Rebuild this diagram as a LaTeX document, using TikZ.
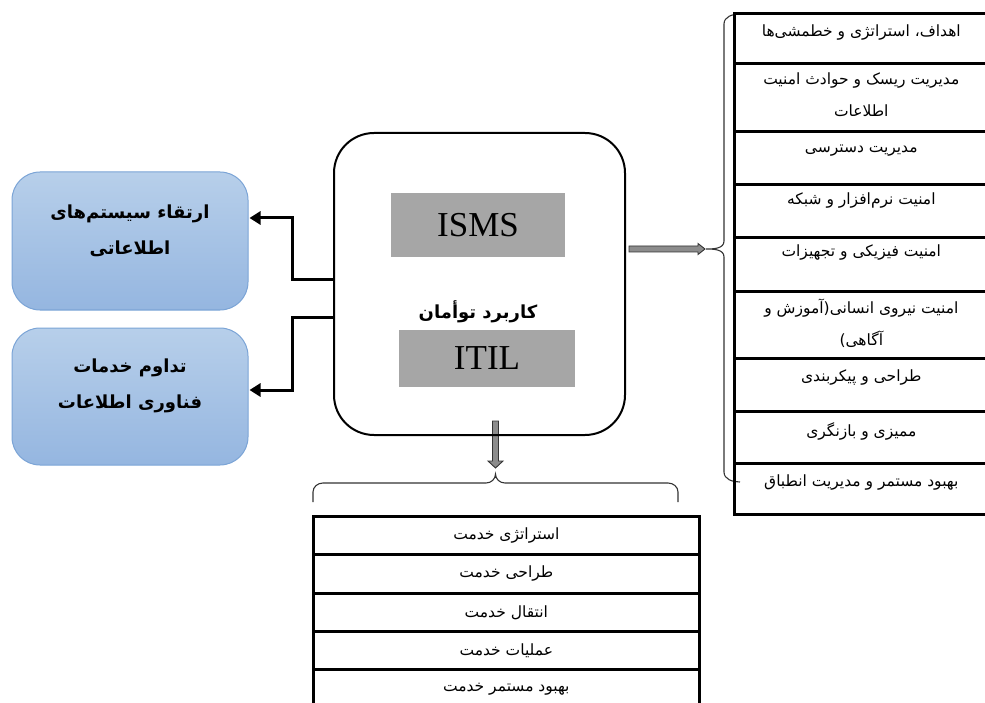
\documentclass[tikz,border=0pt]{standalone}
\usepackage{fontspec}
\setmainfont{Liberation Serif}
\newfontfamily\fa[Script=Arabic]{DejaVu Sans}
\TeXXeTstate=1
\usetikzlibrary{arrows.meta,calc}
\newcommand{\pr}[1]{\beginR #1\endR}
\definecolor{boxgray}{HTML}{A6A6A6}
\definecolor{arrgray}{HTML}{8C8C8C}
\definecolor{bluetop}{HTML}{B7CFEA}
\definecolor{bluebot}{HTML}{95B6E0}
\definecolor{blueline}{HTML}{7BA4D6}
\tikzset{
  corebox/.style={draw, line width=2pt, rounded corners=40pt, minimum width=291pt, minimum height=302pt, inner sep=0pt},
  bluebox/.style={draw=blueline, line width=1pt, rounded corners=28pt, top color=bluetop, bottom color=bluebot, minimum width=236pt, minimum height=137pt, inner sep=0pt},
  graybox/.style={fill=boxgray, inner sep=0pt, font=\fontsize{35}{40}\selectfont},
  rcell/.style={draw, line width=2.6pt, minimum width=254pt, inner sep=0pt, anchor=north west},
  bcell/.style={draw, line width=2.6pt, minimum width=386pt, inner sep=0pt, anchor=north west},
  ftext/.style={inner sep=0pt, align=center, font=\fa\fontsize{15.5}{32}\selectfont},
  btext/.style={inner sep=0pt, align=center, font=\fa\bfseries\fontsize{18}{36}\selectfont},
  larrow/.style={line width=3pt, -{Triangle[length=11pt,width=13pt]}},
  garrow/.style={fill=arrgray, draw=black!80, line width=0.9pt, line join=miter},
  bracel/.style={line width=1.1pt, draw=black!80}
}
\begin{document}
\begin{tikzpicture}[x=1pt,y=-1pt]
\useasboundingbox (0,0) rectangle (985,703);

% grey arrows (under the box border)
\coordinate (bt) at (495.5,468);
\coordinate (rt) at (705,249);
\draw[garrow] ($(bt)+(-3,-47)$) -- ($(bt)+(-3,-7)$) -- ($(bt)+(-7.5,-7)$) -- (bt) -- ($(bt)+(7.5,-7)$) -- ($(bt)+(3,-7)$) -- ($(bt)+(3,-47)$) -- cycle;

% central box
\node[corebox] (core) at (479.5,284) {};
\node[graybox, minimum width=174pt, minimum height=64pt] (isms) at (478,225) {ISMS};
\node[graybox, minimum width=176pt, minimum height=57pt] (itil) at (487,358.5) {ITIL};
\node[btext] (twin) at (478,312) {\pr{کاربرد توأمان}};

\draw[garrow] ($(core.east)+(3,-38)$) -- ($(rt)+(-7,-3)$) -- ($(rt)+(-7,-5.5)$) -- (rt) -- ($(rt)+(-7,5.5)$) -- ($(rt)+(-7,3)$) -- ($(core.east)+(3,-32)$) -- cycle;

% left blue boxes
\node[bluebox, minimum height=138pt] (b1) at (130,241) {};
\node[btext] (b1t) at ($(b1.center)+(0,-10.5)$) {\pr{ارتقاء سیستم‌های}\\\pr{اطلاعاتی}};
\node[bluebox] (b2) at (130,396.5) {};
\node[btext] (b2t) at ($(b2.center)+(0,-10.5)$) {\pr{تداوم خدمات}\\\pr{فناوری اطلاعات}};

\draw[larrow] ($(core.west)+(0,-4)$) -| ($(b1.east)+(44,-23)$) -- ($(b1.east)+(1,-23)$);
\draw[larrow] ($(core.west)+(0,33)$) -| ($(b2.east)+(44,-6.5)$) -- ($(b2.east)+(1,-6.5)$);

% right brace
\coordinate (rb) at (706,249);
\draw[bracel] (740,14) to[out=180,in=90] (724,24) -- (724,241) to[out=-90,in=0] (rb) to[out=0,in=90] (724,257) -- (724,472) to[out=-90,in=180] (740,482);

% right table
\node[rcell, minimum height=50pt] (r1) at (733,12) {};
\node[rcell, minimum height=68pt] (r2) at (733,62) {};
\node[rcell, minimum height=53pt] (r3) at (733,130) {};
\node[rcell, minimum height=53pt] (r4) at (733,183) {};
\node[rcell, minimum height=54pt] (r5) at (733,236) {};
\node[rcell, minimum height=67pt] (r6) at (733,290) {};
\node[rcell, minimum height=53pt] (r7) at (733,357) {};
\node[rcell, minimum height=52pt] (r8) at (733,410) {};
\node[rcell, minimum height=51pt] (r9) at (733,462) {};
\node[ftext] (t1) at ($(r1.north)+(0,21)$) {\pr{اهداف، استراتژی و خطمشی‌ها}};
\node[ftext] (t2) at ($(r2.north)+(0,33)$) {\pr{مدیریت ریسک و حوادث امنیت}\\\pr{اطلاعات}};
\node[ftext] (t3) at ($(r3.north)+(0,21)$) {\pr{مدیریت دسترسی}};
\node[ftext] (t4) at ($(r4.north)+(0,18)$) {\pr{امنیت نرم‌افزار و شبکه}};
\node[ftext] (t5) at ($(r5.north)+(0,17)$) {\pr{امنیت فیزیکی و تجهیزات}};
\node[ftext] (t6) at ($(r6.north)+(0,33)$) {\pr{امنیت نیروی انسانی(آموزش و}\\\pr{آگاهی)}};
\node[ftext] (t7) at ($(r7.north)+(0,21)$) {\pr{طراحی و پیکربندی}};
\node[ftext] (t8) at ($(r8.north)+(0,21)$) {\pr{ممیزی و بازنگری}};
\node[ftext] (t9) at ($(r9.north)+(0,21)$) {\pr{بهبود مستمر و مدیریت انطباق}};

% bottom brace
\coordinate (bb) at (495.5,474);
\draw[bracel] (313,502) -- (313,492) to[out=90,in=180] (323,483) -- (486,483) to[out=0,in=-90] (bb) to[out=-90,in=180] (505,483) -- (668,483) to[out=0,in=90] (678,492) -- (678,502);

% bottom table
\node[bcell, minimum height=38pt] (s1) at (312,515) {};
\node[bcell, minimum height=39pt] (s2) at (312,553) {};
\node[bcell, minimum height=38pt] (s3) at (312,592) {};
\node[bcell, minimum height=38pt] (s4) at (312,630) {};
\node[bcell, minimum height=44pt] (s5) at (312,668) {};
\node[ftext] (u1) at (s1.center) {\pr{استراتژی خدمت}};
\node[ftext] (u2) at (s2.center) {\pr{طراحی خدمت}};
\node[ftext] (u3) at (s3.center) {\pr{انتقال خدمت}};
\node[ftext] (u4) at (s4.center) {\pr{عملیات خدمت}};
\node[ftext] (u5) at ($(s5.north)+(0,21)$) {\pr{بهبود مستمر خدمت}};
\end{tikzpicture}
\end{document}
